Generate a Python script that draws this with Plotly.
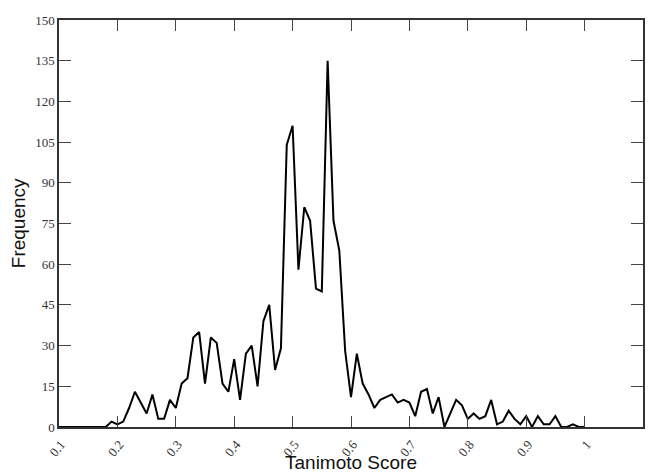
import plotly.graph_objects as go

scores = [0.10, 0.11, 0.12, 0.13, 0.14, 0.15, 0.16, 0.17, 0.18, 0.19,
          0.20, 0.21, 0.22, 0.23, 0.24, 0.25, 0.26, 0.27, 0.28, 0.29,
          0.30, 0.31, 0.32, 0.33, 0.34, 0.35, 0.36, 0.37, 0.38, 0.39,
          0.40, 0.41, 0.42, 0.43, 0.44, 0.45, 0.46, 0.47, 0.48, 0.49,
          0.50, 0.51, 0.52, 0.53, 0.54, 0.55, 0.56, 0.57, 0.58, 0.59,
          0.60, 0.61, 0.62, 0.63, 0.64, 0.65, 0.66, 0.67, 0.68, 0.69,
          0.70, 0.71, 0.72, 0.73, 0.74, 0.75, 0.76, 0.77, 0.78, 0.79,
          0.80, 0.81, 0.82, 0.83, 0.84, 0.85, 0.86, 0.87, 0.88, 0.89,
          0.90, 0.91, 0.92, 0.93, 0.94, 0.95, 0.96, 0.97, 0.98, 0.99,
          1.00]

frequency = [0, 0, 0, 0, 0, 0, 0, 0, 0, 2,
             1, 2, 7, 13, 9, 5, 12, 3, 3, 10,
             7, 16, 18, 33, 35, 16, 33, 31, 16, 13,
             25, 10, 27, 30, 15, 39, 45, 21, 29, 104,
             111, 58, 81, 76, 51, 50, 135, 76, 65, 28,
             11, 27, 16, 12, 7, 10, 11, 12, 9, 10,
             9, 4, 13, 14, 5, 11, 0, 5, 10, 8,
             3, 5, 3, 4, 10, 1, 2, 6, 3, 1,
             4, 0, 4, 1, 1, 4, 0, 0, 1, 0,
             0]

x_ticks = [0.1, 0.2, 0.3, 0.4, 0.5, 0.6, 0.7, 0.8, 0.9, 1.0, 1.1]
x_tick_labels = ["0.1", "0.2", "0.3", "0.4", "0.5", "0.6", "0.7", "0.8", "0.9", "1", "1.1"]
y_ticks = [0, 15, 30, 45, 60, 75, 90, 105, 120, 135, 150]

fig = go.Figure()
fig.add_trace(go.Scatter(
    x=scores, y=frequency, mode="lines",
    line=dict(color="black", width=2),
    showlegend=False, hoverinfo="skip",
))

tick_font = dict(family="Liberation Serif", size=13, color="#333333")
title_font = dict(family="Liberation Sans", size=19, color="#111111")

fig.update_layout(
    template="none",
    width=648, height=474,
    margin=dict(l=59, r=5, t=20, b=47, autoexpand=False),
    paper_bgcolor="white", plot_bgcolor="white",
    annotations=[
        dict(text="Tanimoto Score", x=0.5, y=-0.087, xref="paper", yref="paper",
             xanchor="center", yanchor="middle", showarrow=False, font=title_font),
        dict(text="Frequency", x=-0.069, y=0.5, xref="paper", yref="paper",
             xanchor="center", yanchor="middle", showarrow=False, textangle=-90,
             font=title_font),
    ],
)
fig.update_xaxes(
    range=[0.1, 1.1], tickvals=x_ticks, ticktext=x_tick_labels,
    tickangle=-50, tickfont=tick_font, automargin=False,
    ticks="inside", ticklen=11, tickwidth=1, tickcolor="#444444",
    showline=True, linecolor="#333333", linewidth=1.5, mirror="ticks",
    showgrid=False, zeroline=False, ticklabelshift=2, ticklabelstandoff=3,
)
fig.update_yaxes(
    range=[0, 150], tickvals=y_ticks, tickfont=tick_font, automargin=False,
    ticks="inside", ticklen=12, tickwidth=1, tickcolor="#444444",
    showline=True, linecolor="#333333", linewidth=1.5, mirror="ticks",
    showgrid=False, zeroline=False,
)

fig.write_html("out.html", config={"displayModeBar": False},
               post_script="document.body.style.margin='0';")
